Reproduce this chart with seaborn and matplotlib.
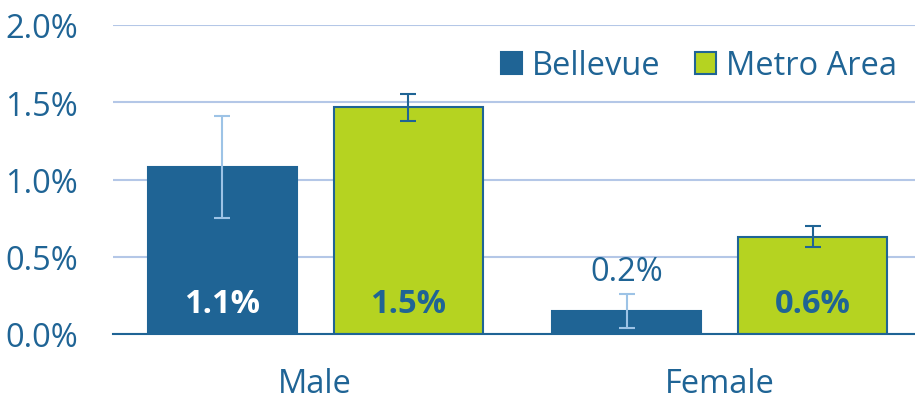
import matplotlib
matplotlib.use("Agg")
import matplotlib.pyplot as plt
import seaborn as sns
import pandas as pd

categories = ["Male", "Female"]
series = ["Bellevue", "Metro Area"]
bellevue = [1.082, 0.151]
metro = [1.468, 0.630]
bellevue_lo = [0.749, 0.037]
bellevue_hi = [1.413, 0.262]
metro_lo = [1.381, 0.565]
metro_hi = [1.554, 0.697]
bellevue_labels = ["1.1%", "0.2%"]
metro_labels = ["1.5%", "0.6%"]
yticks = [0.0, 0.5, 1.0, 1.5, 2.0]
ytick_labels = ["0.0%", "0.5%", "1.0%", "1.5%", "2.0%"]

DARK = "#1f6495"
GREEN = "#b5d321"
LIGHT = "#9dc3e6"
GRID = "#b4c7e7"
FS = 23.5

sns.set_theme(style="white")
plt.rcParams["font.family"] = ["Open Sans", "DejaVu Sans"]

df = pd.DataFrame({
    "cat": categories * 2,
    "series": [series[0]] * 2 + [series[1]] * 2,
    "val": bellevue + metro,
})

fig = plt.figure(figsize=(9.15, 4.02), dpi=100)
ax = fig.add_axes([113 / 915, 67 / 402, (922 - 113) / 915, (335 - 26) / 402])

sns.barplot(data=df, x="cat", y="val", hue="series", order=categories,
            hue_order=series, palette=[DARK, GREEN], width=0.92, gap=0.2,
            errorbar=None, ax=ax, saturation=1, zorder=3)

patches = [p for p in ax.patches if p.get_height() > 0]
for p in patches:
    p.set_edgecolor(DARK)
    p.set_linewidth(1.5)

los = bellevue_lo + metro_lo
his = bellevue_hi + metro_hi
vals = bellevue + metro
labels = bellevue_labels + metro_labels
ecolors = [LIGHT, LIGHT, DARK, DARK]
txtcolors = ["white", None, DARK, DARK]
for i, p in enumerate(patches[:4]):
    xc = p.get_x() + p.get_width() / 2
    v = vals[i]
    ax.errorbar([xc], [v], yerr=[[v - los[i]], [his[i] - v]], fmt="none",
                ecolor=ecolors[i], elinewidth=1.5, capsize=6, capthick=1.5, zorder=4)
    if i == 1:
        ax.text(xc, 0.403, labels[i], ha="center", va="center",
                fontsize=FS, color=DARK, zorder=5)
    else:
        ax.text(xc, 0.2, labels[i], ha="center", va="center", fontsize=FS,
                fontweight="bold", color=txtcolors[i], zorder=5)

ax.set_ylim(0, 2.0)
ax.set_xlim(-0.5, 1.5)
ax.set_yticks(yticks)
ax.set_yticklabels(ytick_labels)
ax.yaxis.grid(True, color=GRID, linewidth=1.5, zorder=0)
ax.set_axisbelow(True)
ax.tick_params(axis="y", length=0, pad=25, labelsize=FS, labelcolor=DARK)
ax.tick_params(axis="x", length=0, pad=24, labelsize=FS, labelcolor=DARK)
ax.set_xlabel("")
ax.set_ylabel("")
for s in ["top", "right", "left"]:
    ax.spines[s].set_visible(False)
ax.spines["bottom"].set_color(DARK)
ax.spines["bottom"].set_linewidth(1.5)
ax.spines["bottom"].set_zorder(6)

handles, lbls = ax.get_legend_handles_labels()
leg = ax.legend(handles, lbls, loc="upper right", bbox_to_anchor=(910 / 915, 0.907),
                bbox_transform=fig.transFigure, ncol=2, frameon=False,
                fontsize=FS, handlelength=0.65, handleheight=0.65,
                handletextpad=0.3, columnspacing=1.05, borderaxespad=0)
for t in leg.get_texts():
    t.set_color(DARK)
for h in leg.legend_handles:
    h.set_edgecolor(DARK)
    h.set_linewidth(1.5)

fig.savefig("out.png", dpi=100)
